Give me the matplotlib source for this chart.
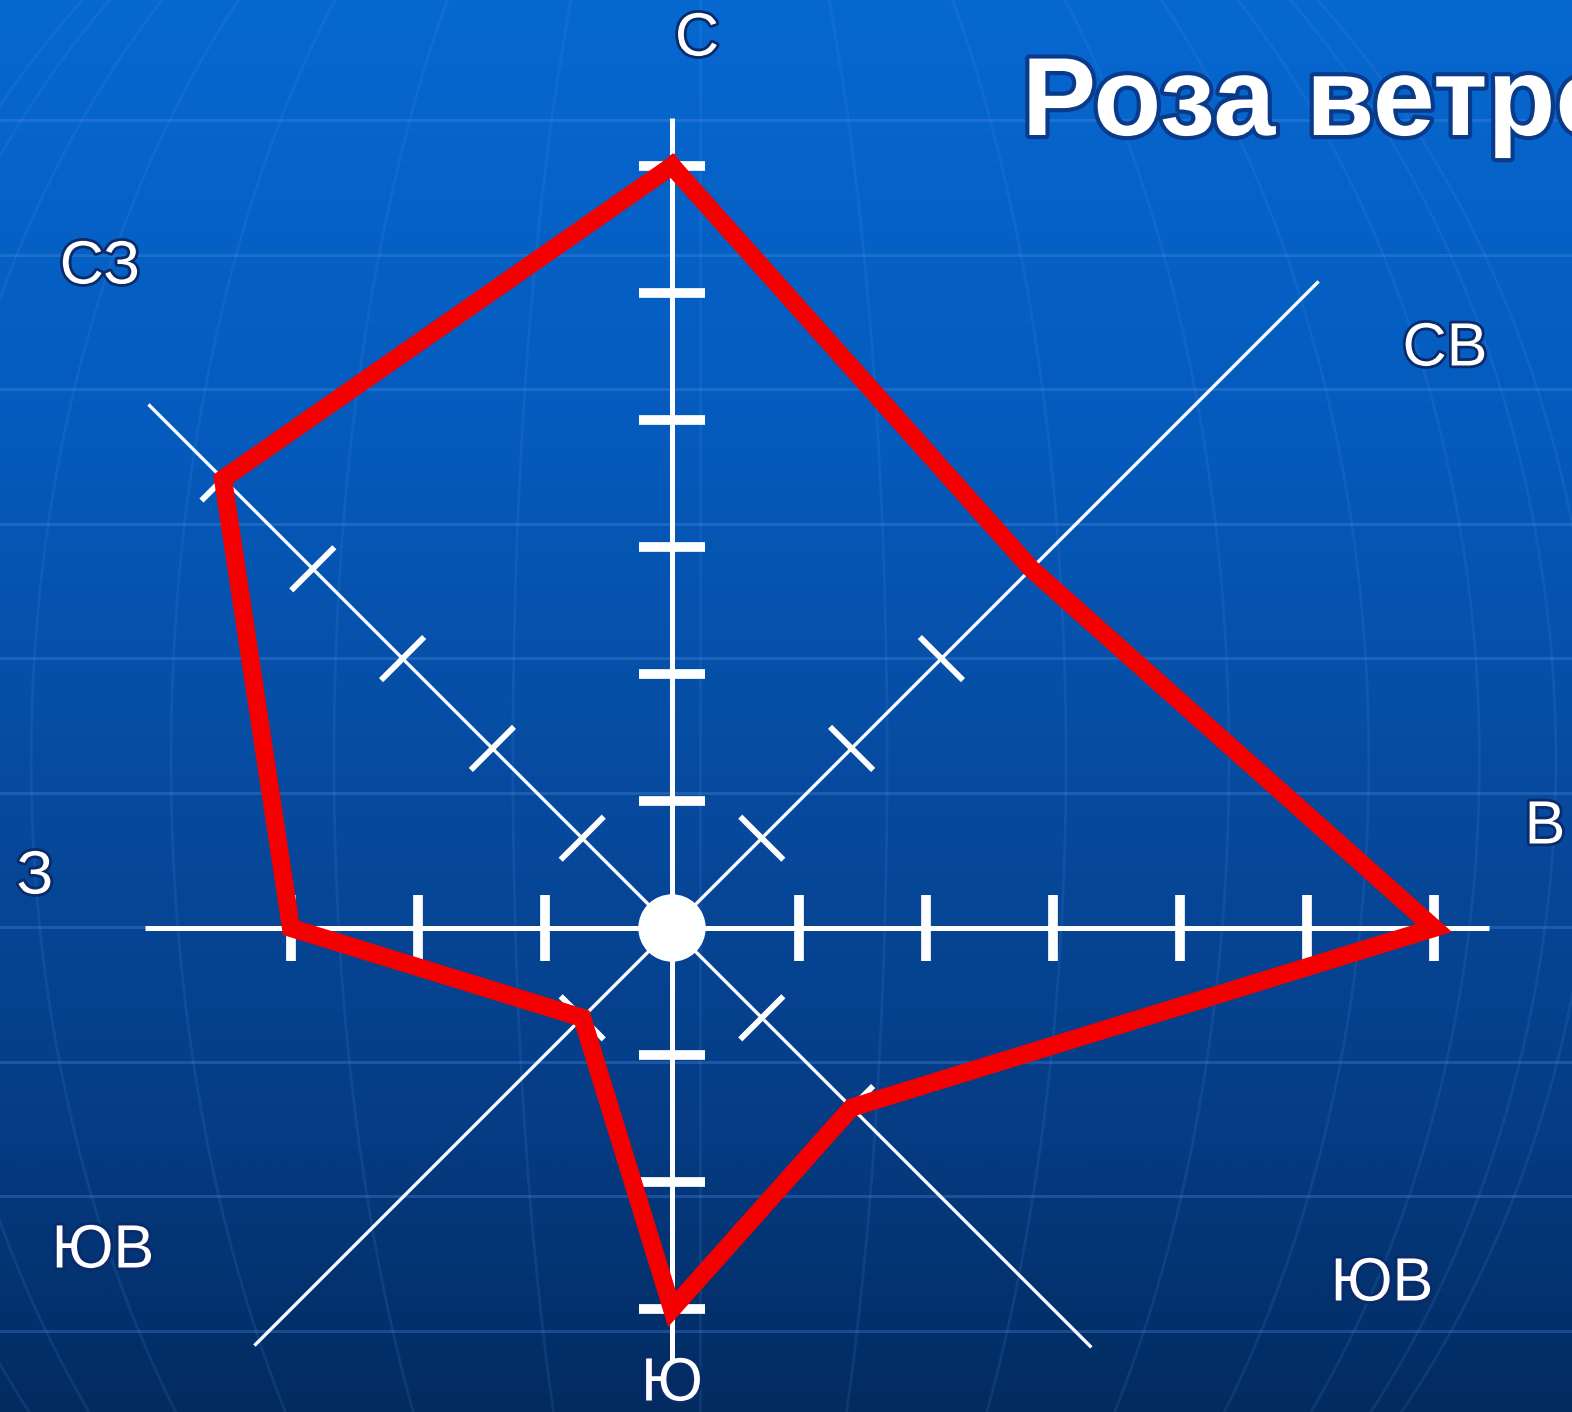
import numpy as np
import matplotlib
matplotlib.use('Agg')
import matplotlib.pyplot as plt
from matplotlib.colors import LinearSegmentedColormap
from matplotlib.patches import Circle
import matplotlib.patheffects as pe

# wind rose data: directions clockwise from north, repeats per direction
directions = ['С', 'СВ', 'В', 'ЮВ', 'Ю', 'ЮЗ', 'З', 'СЗ']
angles_deg = [0, 45, 90, 135, 180, 225, 270, 315]
frequency = [6, 4, 6, 2, 3, 1, 3, 5]

# labels as they are printed on the slide (both lower corners read "ЮВ")
label_text = ['С', 'СВ', 'В', 'ЮВ', 'Ю', 'ЮВ', 'З', 'СЗ']

title = 'Роза ветров'

# ---- layout (pixels of the 1572x1412 picture) ----
W, H = 1572, 1412
CX, CY = 672, 928          # centre of the rose
UNIT = 127                 # pixels per one tick step
axis_len = [6.38, 7.2, 6.43, 4.67, 3.4, 4.65, 4.15, 5.83]
label_pos = [(697, 40), (1445, 350), (1545, 828), (1382, 1285),
             (672, 1385), (103, 1252), (35, 878), (100, 268)]

font = 'Liberation Sans'

fig = plt.figure(figsize=(W / 100, H / 100), dpi=100)

# background: blue gradient with faint globe grid
bg = fig.add_axes([0, 0, 1, 1])
cmap = LinearSegmentedColormap.from_list(
    'slide', [(0.0, '#0768d0'), (0.3, '#055bbd'), (0.55, '#074ba0'),
              (0.8, '#053c84'), (1.0, '#022b60')])
grad = np.linspace(0, 1, 512).reshape(-1, 1)
bg.imshow(grad, cmap=cmap, extent=(0, W, H, 0), aspect='auto')
bg.set_xlim(0, W)
bg.set_ylim(H, 0)
bg.axis('off')

for yy in np.arange(120, H, 134.5):
    bg.axhline(yy, color='#4f8fe8', lw=2.2, alpha=0.3)

# meridians of a big globe
gcx, gcy, rx, ry = 700, 760, 900, 1050
lat = np.linspace(-np.pi / 2, np.pi / 2, 300)
for lon in np.deg2rad(np.arange(-84, 85, 12)):
    mx = gcx + rx * np.sin(lon) * np.cos(lat)
    my = gcy + ry * np.sin(lat)
    bg.plot(mx, my, color='#5a9af0', lw=2.0, alpha=0.13)

# rose axes in tick units, centre at origin
ax = fig.add_axes([0, 0, 1, 1])
ax.set_facecolor('none')
ax.set_xlim(-CX / UNIT, (W - CX) / UNIT)
ax.set_ylim(-(H - CY) / UNIT, CY / UNIT)
ax.axis('off')

ang = np.deg2rad(angles_deg)
dx, dy = np.sin(ang), np.cos(ang)

for i in range(len(directions)):
    cardinal = angles_deg[i] % 90 == 0
    lw_axis = 3.6 if cardinal else 2.4
    ax.plot([0, axis_len[i] * dx[i]], [0, axis_len[i] * dy[i]],
            color='white', lw=lw_axis, solid_capstyle='butt', zorder=2)
    # tick marks at every step up to the value
    half = 0.26 if cardinal else 0.24
    tw = 7.0 if cardinal else 4.2
    for k in range(1, frequency[i] + 1):
        px, py = k * dx[i], k * dy[i]
        ax.plot([px - half * dy[i], px + half * dy[i]],
                [py + half * dx[i], py - half * dx[i]],
                color='white', lw=tw, solid_capstyle='butt', zorder=2)

ax.add_patch(Circle((0, 0), 0.26, color='white', zorder=3))

# the rose polygon
rx_ = np.array(frequency) * dx
ry_ = np.array(frequency) * dy
ax.plot(np.append(rx_, rx_[0]), np.append(ry_, ry_[0]), color='#f50000',
        lw=13, solid_joinstyle='miter', zorder=4)

outline = [pe.withStroke(linewidth=4, foreground='#0a2a6a')]
for txt, (lx, ly) in zip(label_text, label_pos):
    bg.text(lx, ly, txt, fontsize=44, color='white', family=font,
            ha='center', va='center', path_effects=outline, zorder=5)

# the slide title runs off the right edge, as on the original slide
bg.text(1022, 135, title, fontsize=80, fontweight='bold', color='white',
        family=font, ha='left', va='baseline',
        path_effects=[pe.withStroke(linewidth=6, foreground='#0a3a8a')],
        zorder=5)

fig.savefig('out.png', dpi=100)
